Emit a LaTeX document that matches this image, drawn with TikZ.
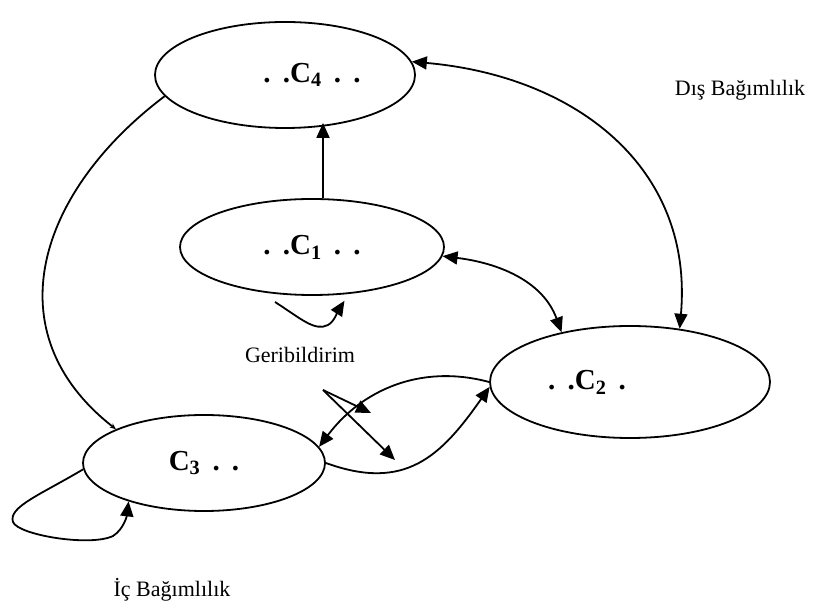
\documentclass[tikz,border=0pt]{standalone}
\usepackage{fontspec}
\setmainfont{Liberation Serif}
\usetikzlibrary{arrows.meta,shapes.geometric}
\tikzset{>={Triangle[length=15pt,width=13pt]}}
\newcommand{\dgap}{\hspace{0.42em}}

\begin{document}
\begin{tikzpicture}[x=1pt,y=1pt,line width=1.8pt,
	blob/.style={ellipse,draw,inner sep=0pt},
	lab/.style={font=\fontsize{29}{32}\selectfont\bfseries},
	txt/.style={font=\fontsize{22}{26}\selectfont}]
	\useasboundingbox (0,0) rectangle (821,615);
	% the four components
	\node[blob,minimum width=260pt,minimum height=106pt,
		label={[lab,xshift=27pt]center:.\dgap.C\textsubscript{4}\dgap.\dgap.}] (c4) at (285,540) {};
	\node[blob,lab,minimum width=264pt,minimum height=96pt] (c1) at (312,368) {.\dgap.C\textsubscript{1}\dgap.\dgap.};
	\node[blob,minimum width=280pt,minimum height=112pt,
		label={[lab,xshift=-43pt]center:.\dgap.C\textsubscript{2}\dgap.}] (c2) at (630,233) {};
	\node[blob,lab,minimum width=242pt,minimum height=96pt] (c3) at (204,152) {C\textsubscript{3}\dgap.\dgap.};
	% texts
	\node[txt] (ext) at (740,525) {Dış Bağımlılık};
	\node[txt] (fbk) at (300,260) {Geribildirim};
	\node[txt] (int) at (172,25) {İç Bağımlılık};
	% dependencies
	\draw [->] ([xshift=11pt]c1.north) -- ([xshift=38pt,yshift=6pt]c4.south);
	\draw [<->] (c1.-4) to[out=-7,in=110] (c2.144);
	\draw [<->] (c4.6) to[out=-5,in=85,looseness=1.1] (c2.47);
	\draw [-{Stealth[length=6pt,width=5pt]}] (c4.190) to[out=217,in=142,looseness=1.2] (c3.159);
	\draw [->] (c2.west) to[out=165,in=53] (c3.8);
	\draw [->] (c3.east) to[out=-20,in=235,looseness=1.2] (c2.182);
	% feedback and inner loop
	\coordinate (fb) at (275,313);
	\draw [->,shorten >=8pt] (fb) .. controls (300,297) and (315,283) .. (328,290) .. controls (334,293) and (338,304) .. (c1.-52);
	\draw [->] (c3.183) .. controls (40,120) and (8,108) .. (13,93) .. controls (18,80) and (90,68) .. (113,79) .. controls (124,86) and (127,100) .. (c3.207);
	% crossing arrows
	\coordinate (xs) at (323,225);
	\coordinate (xa) at (371,202);
	\coordinate (xb) at (395,155);
	\draw [->] (xs) -- (xa);
	\draw [->] (xs) -- (xb);
\end{tikzpicture}
\end{document}
